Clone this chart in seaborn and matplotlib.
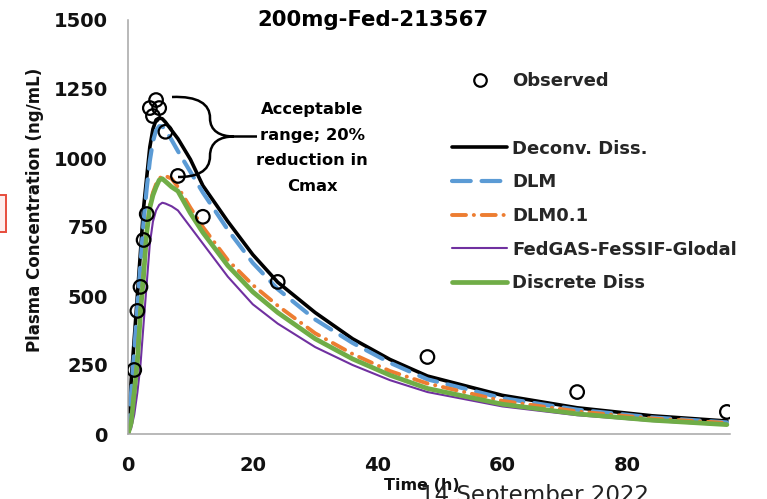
import matplotlib
matplotlib.use("Agg")
import matplotlib.pyplot as plt
from matplotlib.lines import Line2D
from matplotlib.path import Path
from matplotlib.patches import PathPatch, Rectangle
import pandas as pd
import seaborn as sns

# ---- data -------------------------------------------------------------
obs_time = [1, 1.5, 2, 2.5, 3, 3.5, 4, 4.5, 5, 6, 8, 12, 24, 48, 72, 96]
obs_conc = [232, 446, 533, 703, 797, 1181, 1152, 1210, 1181, 1095, 935, 787, 551, 279, 152, 80]

sim_time = [0, 0.5, 1, 1.5, 2, 2.5, 3, 3.5, 4, 4.5, 5, 5.5, 6, 7, 8, 10, 12,
            16, 20, 24, 30, 36, 42, 48, 60, 72, 84, 96]
deconv_diss = [0, 190, 345, 500, 660, 820, 930, 1040, 1105, 1138, 1145, 1142, 1130, 1100, 1070,
               995, 900, 770, 650, 550, 440, 345, 270, 210, 140, 95, 66, 47]
dlm = [0, 150, 300, 460, 615, 770, 890, 990, 1060, 1100, 1115, 1115, 1100, 1065, 1025,
       950, 875, 740, 620, 525, 415, 330, 258, 198, 130, 88, 60, 42]
dlm01 = [0, 45, 155, 270, 445, 580, 735, 830, 875, 905, 925, 935, 935, 925, 895,
         820, 750, 630, 540, 465, 365, 290, 228, 183, 120, 82, 56, 40]
fedgas = [0, 20, 70, 150, 251, 400, 545, 690, 770, 810, 830, 838, 835, 825, 810,
          750, 690, 570, 470, 400, 315, 250, 195, 152, 100, 68, 47, 32]
discrete_diss = [0, 40, 150, 260, 440, 575, 730, 820, 865, 895, 920, 925, 915, 895, 880,
                 800, 730, 610, 515, 440, 345, 272, 213, 165, 108, 73, 50, 34]

series_names = ["Deconv. Diss.", "DLM", "DLM0.1", "FedGAS-FeSSIF-Glodal", "Discrete Diss"]
y_ticks = [0, 250, 500, 750, 1000, 1250, 1500]
x_ticks = [0, 20, 40, 60, 80]
title = "200mg-Fed-213567"
note = "Acceptable\nrange; 20%\nreduction in\nCmax"

# ---- figure -------------------------------------------------------------
sns.set_style("white")
plt.rcParams["font.family"] = ["DejaVu Sans"]
plt.rcParams["font.weight"] = "bold"

W, H = 767, 499
fig = plt.figure(figsize=(W / 100, H / 100), dpi=100)
ax = fig.add_axes([128 / W, 1 - 434 / H, 602 / W, 414 / H])

sim = pd.DataFrame({"time": sim_time, "Deconv. Diss.": deconv_diss, "DLM": dlm,
                    "DLM0.1": dlm01, "FedGAS-FeSSIF-Glodal": fedgas,
                    "Discrete Diss": discrete_diss})
obs = pd.DataFrame({"time": obs_time, "conc": obs_conc})

styles = {
    "Deconv. Diss.": dict(color="black", lw=2.6, linestyle="-"),
    "DLM": dict(color="#5B9BD5", lw=3.0, linestyle=(0, (4.5, 2.6))),
    "DLM0.1": dict(color="#ED7D31", lw=2.8, linestyle=(0, (3.6, 2.0, 0.05, 2.0))),
    "FedGAS-FeSSIF-Glodal": dict(color="#7030A0", lw=1.5, linestyle="-"),
    "Discrete Diss": dict(color="#70AD47", lw=3.4, linestyle="-"),
}

for name in series_names:
    st = styles[name]
    sns.lineplot(data=sim, x="time", y=name, ax=ax, color=st["color"], linewidth=st["lw"],
                 linestyle=st["linestyle"], errorbar=None, sort=False,
                 dash_capstyle="round", solid_capstyle="round")

sns.scatterplot(data=obs, x="time", y="conc", ax=ax, marker="o", s=95,
                facecolor="none", edgecolor="black", linewidth=1.6, zorder=5)

# ---- axes styling -------------------------------------------------------
ax.set_xlim(0, 96.5)
ax.set_ylim(0, 1500)
ax.set_xticks(x_ticks)
ax.set_yticks(y_ticks)
for s in ["top", "right"]:
    ax.spines[s].set_visible(False)
for s in ["left", "bottom"]:
    ax.spines[s].set_color("#A6A6A6")
    ax.spines[s].set_linewidth(1.1)
ax.tick_params(axis="y", direction="out", length=6.5, width=1.1, color="#A6A6A6",
               pad=8, labelsize=14, labelcolor="#111111")
ax.tick_params(axis="x", direction="inout", length=12, width=1.1, color="#A6A6A6",
               pad=9.5, labelsize=14, labelcolor="#111111")
for lab in ax.get_xticklabels() + ax.get_yticklabels():
    lab.set_fontweight("bold")
ax.set_xlabel("")
ax.set_ylabel("")

fig.text(35 / W, 1 - 210 / H, "Plasma Concentration (ng/mL)", rotation=90,
         ha="center", va="center", fontsize=12, fontweight="bold", color="#111111")
fig.text(422 / W, 1 - 486 / H, "Time (h)", ha="center", va="center",
         fontsize=11.5, fontweight="bold", color="#111111")
fig.text(535 / W, 1 - 502 / H, "14 September 2022", ha="center", va="baseline",
         fontsize=16.6, fontweight="normal", color="#222222")
fig.text(373 / W, 1 - 20 / H, title, ha="center", va="center",
         fontsize=15.3, fontweight="bold", color="black")

# annotation text and curly brace
fig.text(312 / W, 1 - 148 / H, note, ha="center", va="center", fontsize=11.8,
         fontweight="bold", linespacing=1.9, color="black")


def px(x, y):
    return (x / W, 1 - y / H)


verts = [px(172, 97), px(198, 96), px(210, 104), px(210, 118),
         px(210, 131), px(220, 136.5), px(234, 136.5),
         px(257, 136.5),
         px(234, 136.5),
         px(220, 136.5), px(210, 142), px(210, 156),
         px(210, 172), px(196, 177), px(178, 177)]
codes = [Path.MOVETO, Path.CURVE4, Path.CURVE4, Path.CURVE4,
         Path.CURVE4, Path.CURVE4, Path.CURVE4,
         Path.LINETO,
         Path.MOVETO,
         Path.CURVE4, Path.CURVE4, Path.CURVE4,
         Path.CURVE4, Path.CURVE4, Path.CURVE4]
fig.patches.append(PathPatch(Path(verts, codes), transform=fig.transFigure,
                             facecolor="none", edgecolor="black", lw=1.8))

# small callout box at the left edge
fig.patches.append(Rectangle(px(-10, 232), 16 / W, 37 / H, transform=fig.transFigure,
                             facecolor="#FDEDEC", edgecolor="#E74C3C", lw=1.4))

# ---- legend -------------------------------------------------------------
handles = [Line2D([], [], marker="o", linestyle="none", markersize=9,
                  markerfacecolor="none", markeredgecolor="black", markeredgewidth=1.6),
           Line2D([], [], linestyle="none")]
labels = ["Observed", " "]
for name in series_names:
    st = styles[name]
    handles.append(Line2D([], [], color=st["color"], lw=st["lw"],
                          linestyle=st["linestyle"], dash_capstyle="round"))
    labels.append(name)

fig.legend(handles, labels, loc="upper left", bbox_to_anchor=(436 / W, 1 - 56 / H),
           frameon=False, handlelength=3.05, handletextpad=0.28,
           labelspacing=0.87, borderpad=0.4, prop={"weight": "bold", "size": 13})

fig.savefig("out.png", dpi=100)
